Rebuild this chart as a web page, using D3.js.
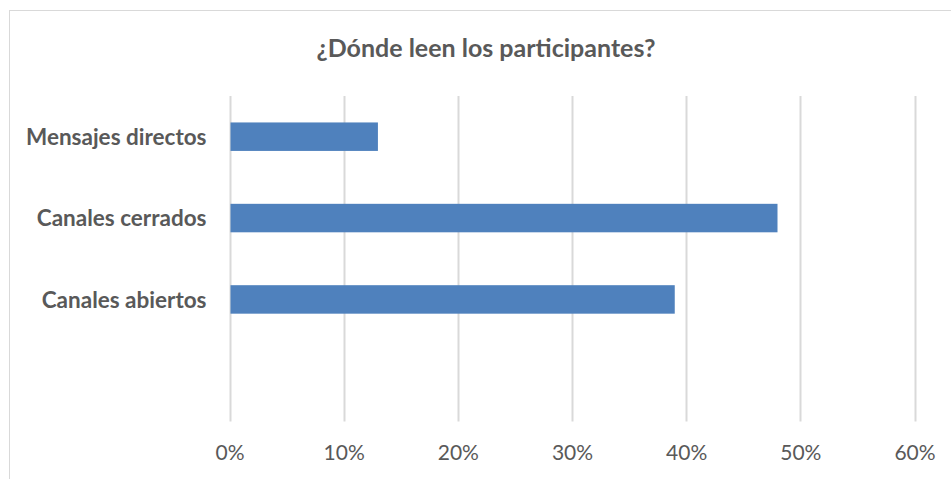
<!DOCTYPE html>
<html>
<head>
<meta charset="utf-8">
<script src="https://cdn.jsdelivr.net/npm/d3@7"></script>
<style>
  html, body { margin: 0; padding: 0; background: #fff; }
  svg { display: block; }
</style>
</head>
<body>
<div id="chart"></div>
<script>
// data
const categories = ['Mensajes directos', 'Canales cerrados', 'Canales abiertos', ''];
const values = [0.13, 0.48, 0.39, null];
const xTicks = [0, 0.1, 0.2, 0.3, 0.4, 0.5, 0.6];
const title = '¿Dónde leen los participantes?';

const W = 951, H = 479;
const plot = { left: 229.5, right: 914.5, top: 96, bottom: 421.5 };

const svg = d3.select('#chart').append('svg')
  .attr('width', W)
  .attr('height', H);

// chart frame
svg.append('rect')
  .attr('x', 9.5).attr('y', 10.5)
  .attr('width', 954).attr('height', 480)
  .attr('fill', '#fff')
  .attr('stroke', '#d9d9d9')
  .attr('stroke-width', 1);

const x = d3.scaleLinear().domain([0, 0.6]).range([plot.left, plot.right]);
const y = d3.scaleBand()
  .domain(categories.map((c, i) => i))
  .range([plot.top, plot.bottom])
  .paddingInner(0.65)
  .paddingOuter(0.325);

// gridlines
svg.append('g')
  .selectAll('line')
  .data(xTicks)
  .join('line')
  .attr('x1', d => Math.round(x(d)) + 0.5)
  .attr('x2', d => Math.round(x(d)) + 0.5)
  .attr('y1', plot.top)
  .attr('y2', plot.bottom)
  .attr('stroke', '#d9d9d9')
  .attr('stroke-width', 2);

// bars
svg.append('g')
  .selectAll('rect')
  .data(values.map((v, i) => ({ v, i })).filter(d => d.v != null))
  .join('rect')
  .attr('x', x(0) + 1)
  .attr('y', d => y(d.i))
  .attr('width', d => x(d.v) - x(0) - 1)
  .attr('height', y.bandwidth())
  .attr('fill', '#4f81bd');

// x axis labels
const xAxis = d3.axisBottom(x)
  .tickValues(xTicks)
  .tickFormat(d3.format('.0%'))
  .tickSize(0)
  .tickPadding(0);

const gx = svg.append('g')
  .attr('transform', `translate(0,${plot.bottom + 38.5})`)
  .call(xAxis);
gx.select('.domain').remove();
gx.selectAll('text')
  .attr('dy', 0)
  .attr('fill', '#595959')
  .style('font-family', 'Lato, sans-serif')
  .style('font-size', '21px');

// category labels
const yAxis = d3.axisLeft(y)
  .tickFormat(i => categories[i])
  .tickSize(0)
  .tickPadding(23);

const gy = svg.append('g')
  .attr('transform', `translate(${plot.left},0)`)
  .call(yAxis);
gy.select('.domain').remove();
gy.selectAll('text')
  .attr('dy', '0.36em')
  .attr('fill', '#595959')
  .style('font-family', 'Lato, sans-serif')
  .style('font-weight', 'bold')
  .style('font-size', '22.5px');

// title
svg.append('text')
  .attr('x', 486)
  .attr('y', 57)
  .attr('text-anchor', 'middle')
  .attr('fill', '#595959')
  .style('font-family', 'Lato, sans-serif')
  .style('font-weight', 'bold')
  .style('font-size', '25px')
  .text(title);
</script>
</body>
</html>
